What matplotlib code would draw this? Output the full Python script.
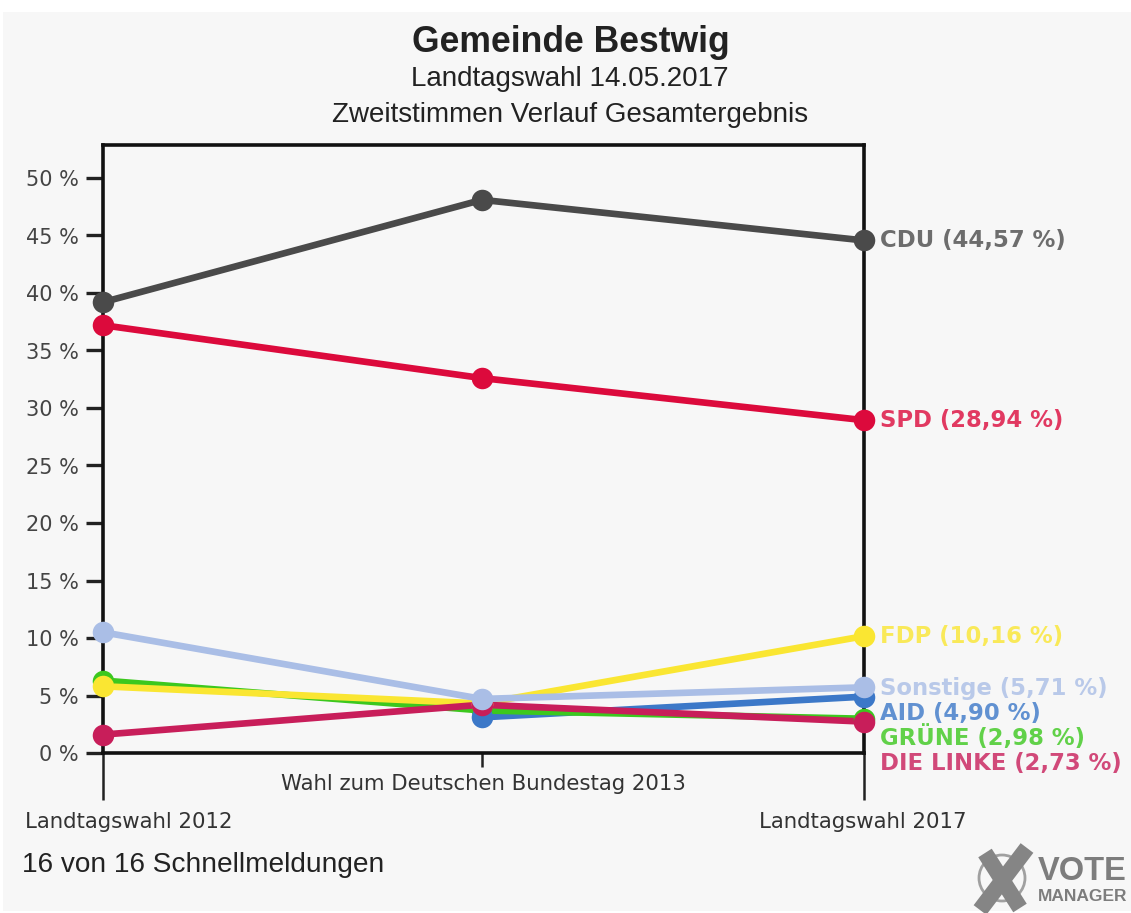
import numpy as np
import matplotlib
matplotlib.use('Agg')
import matplotlib.pyplot as plt
from matplotlib.patches import Rectangle, Ellipse

W, H = 1131, 913

elections = ['Landtagswahl 2012', 'Wahl zum Deutschen Bundestag 2013', 'Landtagswahl 2017']
yticks = [0, 5, 10, 15, 20, 25, 30, 35, 40, 45, 50]

# None = party not on the ballot that year
cdu = [39.2, 48.1, 44.57]
spd = [37.2, 32.6, 28.94]
aid = [None, 3.1, 4.90]
gruene = [6.3, 3.7, 2.98]
fdp = [5.8, 4.3, 10.16]
linke = [1.6, 4.2, 2.73]
sonstige = [10.5, 4.7, 5.71]

end_labels = ['CDU (44,57 %)', 'SPD (28,94 %)', 'AID (4,90 %)', 'GRÜNE (2,98 %)',
              'FDP (10,16 %)', 'DIE LINKE (2,73 %)', 'Sonstige (5,71 %)']
colors = ['#4a4a4a', '#dc0a3c', '#3c78c8', '#3cc81e', '#fae632', '#c81e5a', '#aabee6']
series = [cdu, spd, aid, gruene, fdp, linke, sonstige]
# label heights on the right, moved apart so they do not overlap
label_y = [241, 420, 713, 738, 636, 763, 689]
# blue dot sits on top of the green one in the original
dot_z = [4, 4, 4.5, 4, 4, 4.6, 4.7]


def px(x, y):
    return x / W, 1 - y / H


plt.rcParams['font.family'] = ['Liberation Sans', 'DejaVu Sans']

fig = plt.figure(figsize=(W / 100, H / 100), dpi=100, facecolor='white')
fig.add_artist(Rectangle((3 / W, 2 / H), 1 - 3 / W, 899 / H, transform=fig.transFigure,
                         facecolor='#f7f7f7', edgecolor='none', zorder=-5))

ax = fig.add_axes([103 / W, 1 - 753 / H, 761 / W, 608 / H])
ax.patch.set_alpha(0)
ax.set_xlim(0, 761)
ax.set_ylim(0, 608 / 11.5)

# the middle election does not sit exactly half way
xs = np.array([0, 379, 761])
for vals, c, z in zip(series, colors, dot_z):
    x = [i for i, v in zip(xs, vals) if v is not None]
    y = [v for v in vals if v is not None]
    ax.plot(x, y, color=c, lw=4.8, clip_on=False, zorder=3)
    ax.plot(x, y, color=c, ls='none', marker='o', ms=15.5, mew=0, clip_on=False, zorder=z)

for s in ax.spines.values():
    s.set_linewidth(2.6)
    s.set_color('#111111')

ax.set_yticks(yticks)
ax.set_yticklabels([f'{v} %' for v in yticks], fontsize=15, color='#444444', family=['DejaVu Sans'])
ax.tick_params(axis='y', length=12.5, width=2.4, pad=5, color='#222222')

ax.set_xticks(xs)
ax.set_xticklabels([])
ax.tick_params(axis='x', width=1.8, color='#222222')
for tick, ln in zip(ax.xaxis.get_major_ticks(), [34, 10, 34]):
    tick.tick1line.set_markersize(ln)

for label, x, y in zip(elections, [129, 483, 863], [822, 784, 822]):
    fig.text(*px(x, y), label, ha='center', va='center', fontsize=15.3, color='#333333',
             family=['DejaVu Sans'])

for label, c, y in zip(end_labels, colors, label_y):
    fig.text(*px(880, y), label, ha='left', va='center', fontsize=16.4,
             color=c, fontweight='bold', family=['DejaVu Sans'], alpha=0.8)

fig.text(*px(571, 43), 'Gemeinde Bestwig', ha='center', va='center', fontsize=25.6,
         color='#222222', fontweight='bold')
fig.text(*px(570, 79), 'Landtagswahl 14.05.2017', ha='center', va='center', fontsize=20, color='#222222')
fig.text(*px(570, 115), 'Zweitstimmen Verlauf Gesamtergebnis', ha='center', va='center', fontsize=20, color='#222222')
fig.text(*px(22, 865), '16 von 16 Schnellmeldungen', ha='left', va='center', fontsize=20.2, color='#222222')

# Vote Manager logo
cx, cy = px(1002, 878)
fig.add_artist(Ellipse((cx, cy), 46 / W, 46 / H, transform=fig.transFigure,
                       facecolor='none', edgecolor='#a0a0a0', lw=2))
for a, b in [((985, 853), (1020, 908)), ((1027, 848), (980, 910))]:
    fig.add_artist(plt.Line2D([px(*a)[0], px(*b)[0]], [px(*a)[1], px(*b)[1]],
                              color='#858585', lw=11.5, transform=fig.transFigure,
                              solid_capstyle='butt'))
fig.text(*px(1038, 871), 'VOTE', ha='left', va='center', fontsize=23.5, color='#7d7d7d', fontweight='bold')
fig.text(*px(1038, 896), 'MANAGER', ha='left', va='center', fontsize=12.5, color='#7d7d7d', fontweight='bold')

fig.savefig('out.png', dpi=100, facecolor=fig.get_facecolor())
